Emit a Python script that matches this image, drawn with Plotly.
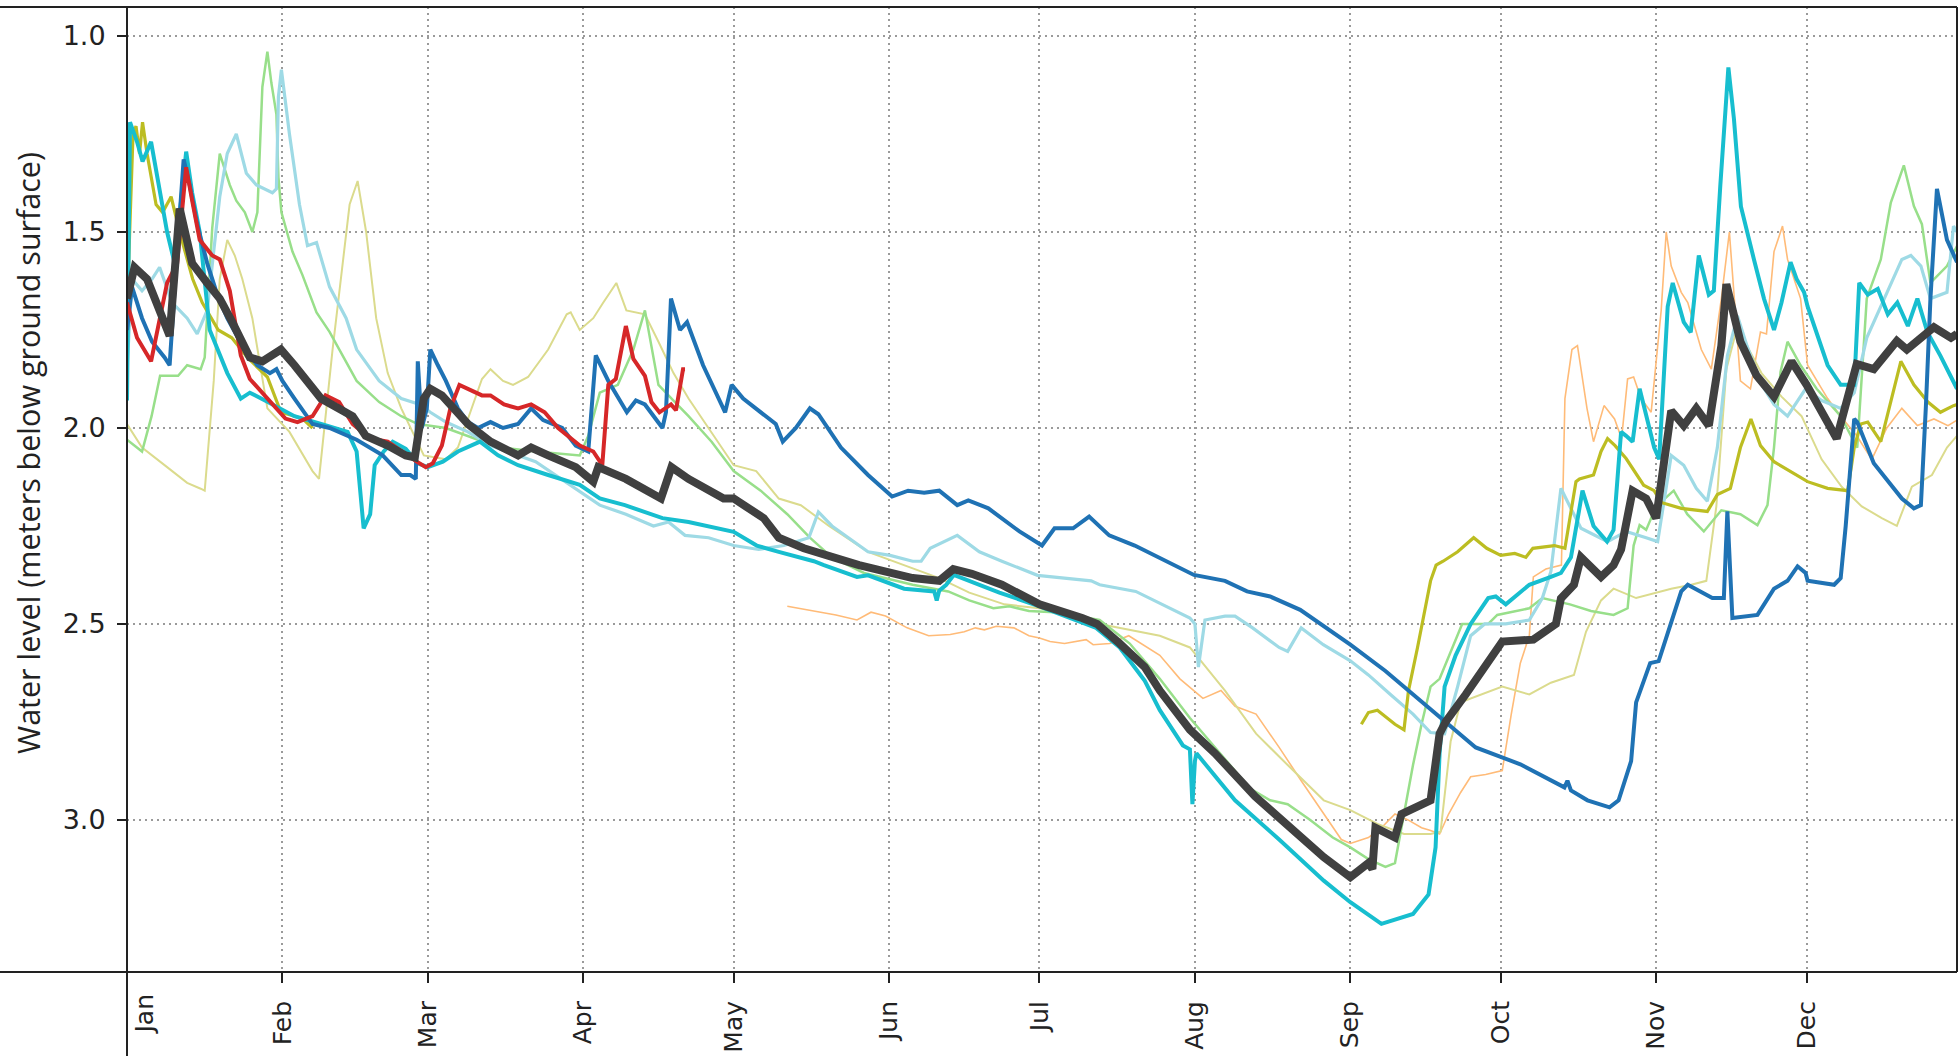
import plotly.graph_objects as go

# ---------------- axis labels ----------------
month_days = [0, 31, 60, 91, 121, 152, 182, 213, 244, 274, 305, 335]
month_names = ["Jan", "Feb", "Mar", "Apr", "May", "Jun", "Jul", "Aug", "Sep", "Oct", "Nov", "Dec"]
y_ticks = [1.0, 1.5, 2.0, 2.5, 3.0]
y_title = "Water level (meters below ground surface)"

# ---------------- series (day of year, water level) ----------------
orange_day = [131.7, 134, 137, 141.4, 145.6, 148.4, 151.3, 155.6, 159.9, 164.2, 167, 169.2, 171, 173.4, 176.9,
              179.9, 182, 184.1, 187, 189, 191.3, 192.7, 196, 199.8, 202.7, 206, 210, 214.6, 218.2, 221, 225.2,
              229.8, 234.2, 238.7, 242.2, 244, 247.6, 250.2, 252.9, 255.5, 258.2, 260, 261.8, 263.6, 266, 268,
              271, 274.3, 276.1, 277.9, 279.7, 280.5, 283, 286.1, 286.8, 288.2, 289.3, 291.2, 292.5, 294.6,
              296.7, 298.1, 299.3, 300.5, 302, 304, 306, 307, 308, 310, 311.3, 314, 316, 318, 319.6, 321.8,
              323.8, 325.8, 327, 328.5, 330.2, 331.2, 333.8, 335.2, 339.2, 341.8, 345, 348, 351, 354, 357.1,
              360.4, 363.2, 365]
orange_val = [2.455, 2.46, 2.467, 2.477, 2.49, 2.47, 2.48, 2.51, 2.53, 2.527, 2.52, 2.51, 2.515, 2.506, 2.51,
              2.53, 2.536, 2.545, 2.55, 2.545, 2.54, 2.553, 2.55, 2.53, 2.553, 2.58, 2.64, 2.69, 2.67, 2.71, 2.73,
              2.815, 2.90, 2.985, 3.05, 3.06, 3.045, 3.02, 2.985, 3.00, 3.02, 3.027, 3.036, 2.985, 2.93, 2.89,
              2.884, 2.874, 2.73, 2.60, 2.53, 2.38, 2.36, 2.35, 1.925, 1.80, 1.79, 1.95, 2.035, 1.943,
              1.977, 2.027, 1.875, 1.87, 1.925, 1.96, 1.70, 1.50, 1.587, 1.654, 1.68, 1.80, 1.85, 1.67, 1.50, 1.88,
              1.90, 1.755, 1.76, 1.55, 1.485, 1.57, 1.67, 1.84, 1.925, 1.97, 2.02, 2.08, 2.00, 1.95, 1.994,
              1.977, 1.994, 1.98]

paleolive_day = [0, 3, 8, 12, 14.7, 15.5, 17.3, 18.5, 20, 21.5, 23, 25, 28, 32.4, 37, 38.3, 41, 44.4, 46, 47.7,
                 49.7, 52, 54.7, 59.2, 63.6, 66, 70.8, 72.5, 75, 77, 80, 84, 87.7, 88.5, 90.3, 93, 95, 97.6,
                 99.6, 103.3, 106, 109, 112, 116, 121, 125.5, 130, 134.4, 140, 147.8, 156.7, 162, 168, 175, 182,
                 194, 206, 212, 219, 225.2, 231.5, 238.7, 244, 249.4, 254.7, 260, 262, 264, 266, 270, 274.3,
                 279.7, 284, 288.6, 291, 294, 296.5, 301, 308, 312, 315, 317, 319, 321, 323.5, 326, 330, 334,
                 338, 342, 346, 350, 353, 356, 360, 363, 365]
paleolive_val = [1.99, 2.05, 2.10, 2.14, 2.155, 2.16, 1.88, 1.62, 1.52, 1.56, 1.62, 1.72, 1.95, 2.01, 2.11, 2.13,
                 1.80, 1.43, 1.37, 1.50, 1.72, 1.86, 1.95, 2.07, 2.08, 2.05, 1.875, 1.85, 1.88, 1.89, 1.87, 1.80,
                 1.71, 1.705, 1.75, 1.72, 1.68, 1.63, 1.70, 1.71, 1.78, 1.86, 1.925, 2.00, 2.095, 2.11, 2.18,
                 2.197, 2.25, 2.316, 2.357, 2.383, 2.42, 2.45, 2.46, 2.50, 2.53, 2.56, 2.67, 2.78, 2.86, 2.95,
                 2.975, 3.01, 3.036, 3.036, 3.03, 2.80, 2.70, 2.68, 2.66, 2.68, 2.65, 2.63, 2.52, 2.44, 2.41,
                 2.434, 2.41, 2.40, 2.39, 2.20, 1.85, 1.75, 1.80, 1.86, 1.92, 1.97, 2.08, 2.15, 2.20, 2.23, 2.25,
                 2.15, 2.12, 2.05, 2.02]

lgreen_day = [0, 3, 4.9, 6.6, 10.2, 12, 14.7, 15.5, 17, 18.5, 20.5, 21.8, 23.5, 25, 26, 27, 28, 28.8, 29.8,
              30.2, 30.8, 33, 35, 37.8, 40.4, 45.8, 50.3, 54.7, 58, 63.6, 70, 75, 81.5, 90.3, 92, 94.3, 97.9,
              101, 103.3, 106, 109, 112, 116.6, 121, 126.4, 131.7, 136.2, 140.6, 147, 156.7, 163.8, 168, 172.8,
              176, 179.9, 185, 194, 200, 206, 212, 218, 224, 228, 231.5, 236, 240.5, 244, 247.6, 251, 252.9,
              254.7, 256.5, 258.2, 260, 261.8, 265.4, 266.3, 271.5, 273.3, 279.7, 282.3, 287.8, 292, 296.5,
              299.3, 300.5, 301.7, 303, 305, 308.5, 311.2, 314.5, 318, 321.8, 325.2, 327.2, 328.5, 329.8,
              331.2, 333.8, 337, 341.8, 345.1, 347, 349.8, 351.8, 354.4, 356.4, 358, 359.7, 363, 365]
lgreen_val = [2.03, 2.06, 1.97, 1.867, 1.867, 1.84, 1.85, 1.82, 1.49, 1.30, 1.38, 1.42, 1.45, 1.50, 1.45, 1.13,
              1.04, 1.12, 1.20, 1.36, 1.45, 1.55, 1.61, 1.705, 1.755, 1.88, 1.934, 1.97, 1.99, 2.00, 2.03, 2.05,
              2.06, 2.07, 2.02, 1.91, 1.89, 1.80, 1.70, 1.89, 1.93, 1.97, 2.035, 2.11, 2.16, 2.22, 2.28, 2.33,
              2.37, 2.40, 2.417, 2.44, 2.46, 2.455, 2.467, 2.47, 2.49, 2.55, 2.64, 2.74, 2.83, 2.92, 2.95, 2.96,
              3.00, 3.045, 3.07, 3.10, 3.12, 3.11, 2.985, 2.86, 2.756, 2.66, 2.64, 2.53, 2.50, 2.50, 2.477,
              2.46, 2.434, 2.45, 2.467, 2.477, 2.46, 2.30, 2.248, 2.26, 2.20, 2.16, 2.22, 2.264, 2.21, 2.22,
              2.248, 2.197, 2.05, 1.857, 1.78, 1.84, 1.90, 1.97, 2.05, 1.67, 1.57, 1.425, 1.33, 1.434, 1.48,
              1.63, 1.587, 1.536]

lblue_day = [0, 1, 3, 5, 6.5, 9, 12, 14, 16, 18.5, 20, 21.8, 23.8, 25.8, 29, 29.8, 30.2, 30.8, 32.4, 34.4, 36,
             37.8, 40.4, 43.7, 45.8, 50.3, 54.7, 58.4, 60.5, 63.6, 68, 72.5, 81.5, 90.3, 94.3, 99.5, 105, 108,
             111.3, 116, 121, 126, 131, 136, 137.9, 140.6, 147.8, 152.2, 156.7, 158.4, 160.2, 165.6, 170, 174.5,
             181.6, 192.3, 194, 201.2, 206, 212, 213, 213.7, 215, 219, 221, 224.5, 229.8, 231.5, 234.2, 238.6,
             244, 247.6, 252, 256.5, 260, 262.8, 265.4, 268, 270.8, 275, 279.7, 282.3, 284, 286, 287, 290,
             295.3, 299, 303, 305.3, 308, 310.5, 313, 315.2, 317.2, 319.2, 321.2, 323.1, 325.8, 328.5, 331.2,
             333, 334.8, 338, 341.8, 344.5, 347, 350.5, 354, 355.8, 357.8, 359.7, 363, 364.3, 365]
lblue_val = [1.85, 1.62, 1.65, 1.62, 1.59, 1.68, 1.72, 1.76, 1.70, 1.41, 1.30, 1.25, 1.35, 1.38, 1.40, 1.39,
             1.155, 1.086, 1.25, 1.43, 1.535, 1.527, 1.64, 1.72, 1.80, 1.88, 1.925, 1.94, 1.96, 1.985, 2.01,
             2.045, 2.086, 2.163, 2.197, 2.22, 2.25, 2.24, 2.274, 2.28, 2.30, 2.31, 2.30, 2.28, 2.214, 2.25,
             2.316, 2.325, 2.34, 2.34, 2.307, 2.274, 2.316, 2.34, 2.376, 2.39, 2.40, 2.417, 2.447, 2.485, 2.50,
             2.61, 2.49, 2.48, 2.48, 2.51, 2.56, 2.57, 2.51, 2.553, 2.594, 2.63, 2.68, 2.73, 2.777, 2.78, 2.66,
             2.53, 2.50, 2.50, 2.49, 2.434, 2.366, 2.154, 2.18, 2.256, 2.29, 2.264, 2.28, 2.29, 2.07, 2.095,
             2.154, 2.187, 2.05, 1.816, 1.714, 1.79, 1.884, 1.94, 1.97, 1.934, 1.90, 1.93, 1.95, 1.91, 1.77,
             1.67, 1.57, 1.56, 1.587, 1.67, 1.654, 1.485, 1.50]

olive_day_a = [0, 1.2, 1.8, 2.5, 3.1, 4, 5.8, 7.1, 8.8, 10.5, 13.1, 15, 18.2, 20.9, 24, 28, 30.7, 35, 37]
olive_val_a = [1.70, 1.25, 1.23, 1.30, 1.22, 1.30, 1.43, 1.45, 1.41, 1.50, 1.62, 1.68, 1.75, 1.77, 1.82, 1.87,
               1.96, 1.976, 2.00]
olive_day_b = [246.2, 247.6, 249.4, 252.9, 254.7, 255.6, 257.4, 259, 260, 261.1, 262.5, 265.4, 267.6, 268.6,
               271.2, 274, 276.8, 279, 280.4, 284.7, 286.8, 289, 289.7, 292.5, 294, 295.3, 296.8, 299, 302.5,
               304.6, 306, 310, 315.2, 317.2, 319.8, 321.8, 323.9, 325.8, 328.5, 331.8, 335.2, 339.2, 343.2,
               344.5, 345.8, 347.2, 349.8, 353.8, 356.4, 359.2, 361.7, 364.3, 365]
olive_val_b = [2.756, 2.726, 2.72, 2.756, 2.77, 2.67, 2.56, 2.45, 2.39, 2.35, 2.34, 2.316, 2.29, 2.28, 2.307,
               2.325, 2.32, 2.33, 2.307, 2.30, 2.307, 2.137, 2.13, 2.12, 2.06, 2.027, 2.045, 2.078, 2.146, 2.16,
               2.19, 2.205, 2.213, 2.17, 2.154, 2.05, 1.977, 2.045, 2.086, 2.11, 2.137, 2.154, 2.16, 2.05, 1.99,
               1.985, 2.035, 1.83, 1.89, 1.934, 1.96, 1.943, 1.94]

cyan_day = [0, 0.6, 2, 3.1, 4.8, 6, 8, 9.5, 11, 11.8, 13, 14.5, 16.5, 18, 20, 22.7, 24.5, 28, 33.4, 38.7, 44,
            45.8, 47.2, 48.5, 49.4, 51.2, 53, 55.6, 58, 60, 63, 66, 70.4, 74, 78, 84, 90.3, 94.3, 99.3, 106.8,
            112, 121, 125.6, 130, 137, 139, 145.6, 147.8, 155, 161, 161.5, 162, 163.4, 164.9, 168, 174, 182,
            193.3, 198, 203, 206, 210.6, 212, 212.5, 213, 213.3, 221, 229.8, 238.7, 244, 250.2, 256.5, 259.6,
            261, 261.8, 262.8, 265, 268, 271.5, 273, 275, 277, 279.7, 284, 286, 288, 290.3, 292.5, 295.2,
            296.5, 298, 299, 300.3, 301.7, 303, 304.6, 305.6, 307.3, 308.3, 310.5, 311.9, 313.5, 315.5, 316.5,
            317.8, 319.4, 320.5, 321.9, 324.5, 326.5, 328.5, 330, 331.8, 333, 334.5, 335.2, 339.2, 341.8,
            344.5, 345.5, 347.2, 349.2, 351.2, 353.1, 355.2, 357.1, 359.1, 361.7, 365]
cyan_val = [1.93, 1.22, 1.27, 1.32, 1.27, 1.36, 1.50, 1.58, 1.40, 1.295, 1.40, 1.50, 1.75, 1.80, 1.86, 1.925,
            1.91, 1.933, 1.97, 1.99, 2.01, 2.06, 2.256, 2.22, 2.095, 2.06, 2.035, 2.053, 2.09, 2.10, 2.086,
            2.06, 2.035, 2.07, 2.095, 2.12, 2.145, 2.18, 2.197, 2.23, 2.24, 2.265, 2.30, 2.316, 2.34, 2.35,
            2.38, 2.376, 2.41, 2.417, 2.44, 2.415, 2.40, 2.375, 2.39, 2.42, 2.455, 2.51, 2.56, 2.645, 2.72,
            2.81, 2.82, 2.96, 2.85, 2.83, 2.95, 3.05, 3.155, 3.21, 3.265, 3.24, 3.19, 3.07, 2.83, 2.66, 2.58,
            2.50, 2.434, 2.43, 2.45, 2.43, 2.40, 2.38, 2.37, 2.33, 2.16, 2.25, 2.29, 2.26, 2.01, 2.02, 2.035,
            1.90, 1.97, 2.05, 2.08, 1.69, 1.63, 1.73, 1.756, 1.56, 1.66, 1.65, 1.38, 1.08, 1.21, 1.435, 1.57,
            1.67, 1.75, 1.68, 1.577, 1.62, 1.654, 1.69, 1.84, 1.89, 1.89, 1.63, 1.66, 1.645, 1.71, 1.68, 1.74,
            1.67, 1.756, 1.816, 1.90]

dblue_day = [0, 1, 3, 5, 7.5, 8.5, 10, 11.3, 12.5, 14, 16, 18, 20, 23, 26, 28.5, 29.8, 31, 33.4, 37, 40.4,
             45.8, 51, 54.7, 56.5, 57.6, 58, 58.8, 59.8, 60.5, 62, 63.6, 66, 68, 70, 72.5, 75, 78, 80.6, 83,
             86.8, 89.5, 92, 93.5, 96, 99.7, 101.5, 103.3, 106.8, 107.5, 108.5, 110.3, 111.7, 114.9, 119.3,
             120.6, 122.9, 126.4, 129.4, 130.8, 133.4, 136.2, 137.9, 142.4, 147.8, 152.6, 155.8, 159, 162,
             165.6, 167.8, 171.8, 178, 182.5, 185, 188.7, 191.9, 195.9, 201, 212.8, 219, 223.4, 228, 234, 244,
             251, 259, 263.6, 269, 277.9, 286.7, 287.3, 288, 291.3, 295.7, 297.5, 300, 301, 303.8, 305.5, 310,
             311.3, 316.2, 318.5, 319.2, 320.2, 325.2, 328.5, 331.2, 333.2, 334.8, 335.2, 340.5, 341.8, 342.8,
             344.5, 345.1, 348.4, 351.2, 354, 356.4, 357.8, 358.8, 359.7, 361, 363, 365]
dblue_val = [1.75, 1.64, 1.72, 1.78, 1.82, 1.84, 1.55, 1.315, 1.38, 1.48, 1.58, 1.66, 1.72, 1.79, 1.84, 1.86,
             1.85, 1.88, 1.925, 1.99, 2.00, 2.03, 2.07, 2.12, 2.12, 2.13, 1.83, 2.00, 1.95, 1.80, 1.84, 1.88,
             1.95, 1.985, 2.00, 1.985, 2.00, 1.99, 1.95, 1.98, 2.00, 2.045, 2.06, 1.815, 1.88, 1.96, 1.93, 1.94,
             2.00, 1.96, 1.67, 1.75, 1.73, 1.84, 1.96, 1.89, 1.925, 1.96, 1.99, 2.035, 2.00, 1.95, 1.965, 2.05,
             2.12, 2.175, 2.16, 2.165, 2.16, 2.197, 2.185, 2.205, 2.264, 2.30, 2.256, 2.256, 2.226, 2.274, 2.30,
             2.375, 2.39, 2.417, 2.43, 2.464, 2.553, 2.62, 2.706, 2.756, 2.815, 2.858, 2.917, 2.90, 2.925, 2.95,
             2.968, 2.95, 2.85, 2.70, 2.60, 2.595, 2.417, 2.40, 2.434, 2.434, 2.213, 2.485, 2.477, 2.41, 2.39,
             2.353, 2.37, 2.39, 2.40, 2.383, 2.25, 1.977, 1.985, 2.09, 2.137, 2.18, 2.205, 2.197, 1.943, 1.67,
             1.39, 1.52, 1.577]

red_day = [0, 2, 4.8, 6.5, 8, 10, 11.8, 13, 14.5, 17, 18.5, 20.5, 22.7, 24.5, 28, 31.6, 34, 37, 39.6, 42.3, 45,
           48.5, 52, 54.7, 57.8, 59.6, 61, 62.8, 64.5, 66.3, 70.8, 72.5, 75.2, 78, 80.6, 83.3, 86, 90.3, 93,
           94.8, 96, 97.5, 99.5, 101, 103.3, 104.6, 106.2, 108.5, 109.5, 110.9, 111.3]
red_val = [1.68, 1.77, 1.83, 1.73, 1.63, 1.58, 1.335, 1.42, 1.52, 1.56, 1.57, 1.65, 1.815, 1.875, 1.925, 1.976,
           1.985, 1.97, 1.917, 1.934, 1.99, 2.027, 2.035, 2.06, 2.086, 2.10, 2.09, 2.045, 1.95, 1.89, 1.917,
           1.917, 1.94, 1.95, 1.94, 1.96, 2.00, 2.045, 2.06, 2.095, 1.89, 1.875, 1.74, 1.824, 1.867, 1.934,
           1.96, 1.94, 1.955, 1.85, 1.85]

gray_day = [0, 1.5, 4, 6, 8.5, 10.5, 13, 16, 18.5, 21, 24.5, 27, 30.7, 33.4, 38.7, 45, 47.6, 52, 55.6, 57.4,
            59.2, 60.5, 62.8, 68, 72.5, 78, 80.6, 84, 89.5, 93, 94, 99.5, 106.5, 108.6, 112, 119, 121, 127, 130,
            135, 146, 156.7, 162, 164.8, 168.5, 174.5, 180, 182, 190.5, 193.5, 198, 203, 206, 212, 217, 225,
            238.7, 244, 247.6, 248.4, 249, 252.9, 254.2, 260, 261.8, 263, 267, 272.5, 274.3, 280.5, 285, 286,
            288.6, 290, 294, 296.5, 298, 300.3, 303, 305, 308, 310.5, 313, 315.5, 318, 319, 321.8, 325, 328.5,
            332, 335, 341, 345, 348.4, 353, 355, 360.4, 363.8, 365]
gray_val = [1.67, 1.59, 1.62, 1.68, 1.765, 1.44, 1.58, 1.63, 1.67, 1.73, 1.82, 1.83, 1.80, 1.84, 1.925, 1.97,
            2.02, 2.045, 2.07, 2.075, 1.925, 1.90, 1.917, 1.99, 2.035, 2.07, 2.05, 2.07, 2.10, 2.137, 2.10, 2.13,
            2.18, 2.10, 2.13, 2.18, 2.18, 2.23, 2.28, 2.307, 2.35, 2.383, 2.39, 2.36, 2.372, 2.40, 2.434, 2.45,
            2.485, 2.50, 2.55, 2.61, 2.67, 2.77, 2.83, 2.94, 3.095, 3.146, 3.11, 3.125, 3.02, 3.045, 2.985,
            2.95, 2.78, 2.75, 2.68, 2.58, 2.545, 2.54, 2.50, 2.435, 2.40, 2.33, 2.38, 2.35, 2.31, 2.16, 2.18,
            2.23, 1.956, 1.994, 1.95, 1.994, 1.79, 1.633, 1.78, 1.866, 1.92, 1.83, 1.89, 2.027, 1.837, 1.85,
            1.778, 1.80, 1.743, 1.77, 1.76]

# ---------------- figure ----------------
W, H = 1960, 1056
ML, MR, MT, MB = 127, 3, 7, 84
PW, PH = W - ML - MR, H - MT - MB
TICK_FONT = "DejaVu Sans"
INK = "#222"

fig = go.Figure()

series = [
    (orange_day, orange_val, "#ffbb78", 1.6),
    (paleolive_day, paleolive_val, "#dbdb8d", 2.0),
    (lgreen_day, lgreen_val, "#98df8a", 2.5),
    (lblue_day, lblue_val, "#9edae5", 3.2),
    (olive_day_a, olive_val_a, "#bcbd22", 3.2),
    (olive_day_b, olive_val_b, "#bcbd22", 3.2),
    (cyan_day, cyan_val, "#17becf", 4.0),
    (dblue_day, dblue_val, "#1f72b4", 4.0),
    (red_day, red_val, "#d62728", 4.0),
    (gray_day, gray_val, "#404040", 8.0),
]
for xs, ys, col, lw in series:
    fig.add_trace(go.Scatter(x=xs, y=ys, mode="lines", line=dict(color=col, width=lw),
                             showlegend=False, hoverinfo="skip"))

grid = dict(showgrid=True, gridcolor="#9a9a9a", gridwidth=1.5, griddash="2px,4px", zeroline=False)

# "Jan" sits just to the right of its tick in the original, so it is drawn separately below
x_ticktext = [""] + month_names[1:]
fig.update_xaxes(range=[0, 365], tickmode="array", tickvals=month_days, ticktext=x_ticktext,
                 tickangle=-90, ticks="outside", ticklen=10, tickwidth=1.5, tickcolor=INK,
                 tickfont=dict(family=TICK_FONT, size=25, color=INK), ticklabelstandoff=8,
                 showline=False, **grid)
fig.update_yaxes(range=[3.388, 0.926], tickmode="array", tickvals=y_ticks,
                 ticktext=[f"{v:.1f}" for v in y_ticks],
                 ticks="outside", ticklen=9, tickwidth=1.5, tickcolor=INK,
                 tickfont=dict(family=TICK_FONT, size=27, color=INK), ticklabelstandoff=6,
                 showline=False, **grid)

fig.add_annotation(text=month_names[0], textangle=-90, xref="paper", yref="paper",
                   x=(144 - ML) / PW, y=-(992 - (H - MB)) / PH, xanchor="center", yanchor="top",
                   showarrow=False, font=dict(family=TICK_FONT, size=25, color=INK))

# frame lines (extend beyond plot area like a table grid)
xl = -ML / PW
yb = -MB / PH
line_style = dict(color=INK, width=2)
fig.add_shape(type="line", xref="paper", yref="paper", x0=xl, x1=1, y0=1, y1=1, line=line_style)
fig.add_shape(type="line", xref="paper", yref="paper", x0=xl, x1=1, y0=0, y1=0, line=line_style)
fig.add_shape(type="line", xref="paper", yref="paper", x0=0, x1=0, y0=yb, y1=1, line=line_style)
fig.add_shape(type="line", xref="paper", yref="paper", x0=1, x1=1, y0=0, y1=1, line=line_style)

fig.add_annotation(text=y_title, textangle=-90, xref="paper", yref="paper",
                   x=(28 - ML) / PW, y=(H - MB - 453) / PH, xanchor="center", yanchor="middle",
                   showarrow=False, font=dict(family="Open Sans", size=30.5, color=INK))

fig.update_layout(width=W, height=H, margin=dict(l=ML, r=MR, t=MT, b=MB, pad=0),
                  paper_bgcolor="white", plot_bgcolor="white")

fig.write_html("out.html", config={"displayModeBar": False},
               post_script="document.body.style.margin='0';")
